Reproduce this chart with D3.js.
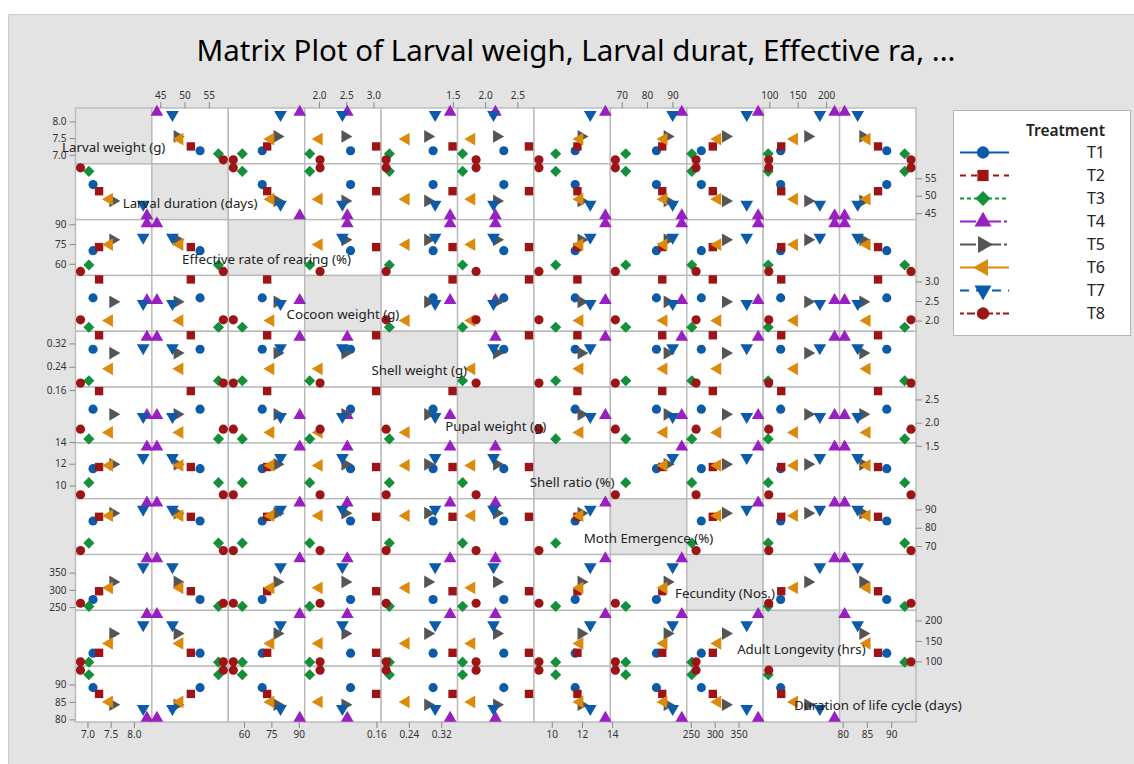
<!DOCTYPE html>
<html>
<head>
  <meta charset="utf-8">
  <title>Matrix Plot</title>
  <script src="https://cdn.jsdelivr.net/npm/d3@7"></script>
  <style>
    body { margin: 0; background: #fff; }
    text { font-family: "Noto Sans", "Open Sans", sans-serif; }
  </style>
</head>
<body>
<svg id="mainsvg" width="1134" height="764"></svg>
<script>
  // values, one entry per treatment T1..T8
  const treatments = ["T1", "T2", "T3", "T4", "T5", "T6", "T7", "T8"];
  const larvalWeight = [7.12, 7.25, 7.03, 8.28, 7.55, 7.47, 8.20, 6.85];
  const larvalDuration = [53.2, 51.3, 57.0, 44.3, 48.5, 49.0, 47.5, 58.0];
  const effectiveRate = [70.0, 72.7, 59.1, 90.5, 78.2, 74.6, 80.0, 54.2];
  const cocoonWeight = [2.58, 3.05, 1.83, 2.52, 2.48, 2.00, 2.43, 2.02];
  const shellWeight = [0.300, 0.348, 0.192, 0.342, 0.287, 0.233, 0.305, 0.184];
  const pupalWeight = [2.29, 2.68, 1.65, 2.16, 2.18, 1.79, 2.13, 1.86];
  const shellRatio = [11.55, 11.70, 10.26, 13.55, 11.95, 11.85, 12.55, 9.15];
  const mothEmergence = [83.7, 86.0, 71.6, 93.7, 88.0, 86.6, 90.1, 67.5];
  const fecundity = [272, 296, 252, 391, 323, 306, 367, 261];
  const adultLongevity = [120, 121, 98, 215, 168, 144, 189, 99];
  const lifeCycle = [89.1, 87.3, 92.8, 80.4, 84.2, 85.0, 83.1, 94.1];

  const varNames = ["Larval weight (g)", "Larval duration (days)", "Effective rate of rearing (%)",
    "Cocoon weight (g)", "Shell weight (g)", "Pupal weight (g)", "Shell ratio (%)",
    "Moth Emergence (%)", "Fecundity (Nos.)", "Adult Longevity (hrs)", "Duration of life cycle (days)"];
  const tickSets = [[7.0, 7.5, 8.0], [45, 50, 55], [60, 75, 90], [2.0, 2.5, 3.0], [0.16, 0.24, 0.32],
    [1.5, 2.0, 2.5], [10, 12, 14], [70, 80, 90], [250, 300, 350], [100, 150, 200], [80, 85, 90]];
  const tickFormats = [".1f", "d", "d", ".1f", ".2f", ".1f", "d", "d", "d", "d", "d"];

  const columns = [larvalWeight, larvalDuration, effectiveRate, cocoonWeight, shellWeight, pupalWeight,
    shellRatio, mothEmergence, fecundity, adultLongevity, lifeCycle];

  const colors = ["#0b5ba8", "#9c1416", "#14903a", "#9a1fc0", "#555555", "#dc8a0c", "#0b5ba8", "#9c1416"];
  const dashes = [null, "6,5", "4,3", "16,3,3,3", "16,3,3,3", null, "9,7", "4,3,8,3"];
  const shapes = [
    {type: d3.symbolCircle, rot: 0, size: 66},
    {type: d3.symbolSquare, rot: 0, size: 70},
    {type: d3.symbolSquare, rot: 45, size: 62},
    {type: d3.symbolTriangle, rot: 0, size: 70},
    {type: d3.symbolTriangle, rot: 90, size: 70},
    {type: d3.symbolTriangle, rot: -90, size: 70},
    {type: d3.symbolTriangle, rot: 180, size: 70},
    {type: d3.symbolCircle, rot: 0, size: 66}
  ];

  const svg = d3.select('#mainsvg');
  const n = varNames.length;

  // grey page
  svg.append('rect').attr('x', 8.5).attr('y', 14.5).attr('width', 1140).attr('height', 760)
    .attr('fill', '#e3e3e3').attr('stroke', '#cdcdcd');

  svg.append('text').attr('x', 576).attr('y', 61).attr('text-anchor', 'middle')
    .attr('font-size', 29.5).attr('fill', '#000')
    .text('Matrix Plot of Larval weigh, Larval durat, Effective ra, ...');

  const cellX = d3.scaleLinear().domain([0, n]).range([75.5, 916]);
  const cellY = d3.scaleLinear().domain([0, n]).range([108, 722]);
  const cw = cellX(1) - cellX(0), ch = cellY(1) - cellY(0);

  const xs = columns.map((col, i) => d3.scaleLinear().domain(d3.extent(col)).range([cellX(i) + 5, cellX(i + 1) - 5]));
  const ys = columns.map((col, i) => d3.scaleLinear().domain(d3.extent(col)).range([cellY(i + 1) - 4, cellY(i) + 4]));

  // cells
  const cells = d3.cross(d3.range(n), d3.range(n)).map(([r, c]) => ({r, c}));
  svg.append('g').selectAll('rect').data(cells).join('rect')
    .attr('x', d => cellX(d.c)).attr('y', d => cellY(d.r))
    .attr('width', cw).attr('height', ch)
    .attr('fill', d => d.r === d.c ? '#e3e3e3' : '#fff')
    .attr('stroke', '#bababa').attr('stroke-width', 1.4);

  // axes, alternating sides like Minitab
  function styleAxis(g) {
    g.select('.domain').remove();
    g.selectAll('.tick line').attr('stroke', '#8a8a8a');
    g.selectAll('.tick text').attr('fill', '#333').attr('font-size', 10)
      .attr('font-family', '"Noto Sans", "Open Sans", sans-serif');
  }
  for (let i = 0; i < n; i++) {
    const fmt = d3.format(tickFormats[i]);
    const xa = (i % 2 === 0 ? d3.axisBottom(xs[i]) : d3.axisTop(xs[i]))
      .tickValues(tickSets[i]).tickFormat(fmt).tickSize(6).tickPadding(3);
    svg.append('g').attr('transform', `translate(0,${i % 2 === 0 ? cellY(n) : cellY(0)})`).call(xa).call(styleAxis);
    const ya = (i % 2 === 0 ? d3.axisLeft(ys[i]) : d3.axisRight(ys[i]))
      .tickValues(tickSets[i]).tickFormat(fmt).tickSize(6).tickPadding(3);
    svg.append('g').attr('transform', `translate(${i % 2 === 0 ? cellX(0) : cellX(n)},0)`).call(ya).call(styleAxis);
  }

  // points
  const pts = [];
  cells.filter(d => d.r !== d.c).forEach(d => {
    treatments.forEach((t, k) => pts.push({k, x: xs[d.c](columns[d.c][k]), y: ys[d.r](columns[d.r][k])}));
  });
  svg.append('g').selectAll('path').data(pts).join('path')
    .attr('d', d => d3.symbol().type(shapes[d.k].type).size(shapes[d.k].size)())
    .attr('transform', d => `translate(${d.x},${d.y}) rotate(${shapes[d.k].rot})`)
    .attr('fill', d => colors[d.k]);

  // diagonal labels
  svg.append('g').selectAll('text').data(varNames).join('text')
    .attr('x', (d, i) => cellX(i) + cw / 2).attr('y', (d, i) => cellY(i) + ch / 2 + 16)
    .attr('text-anchor', 'middle').attr('font-size', 13.3).attr('fill', '#222')
    .text(d => d);

  // legend
  const lg = svg.append('g');
  lg.append('rect').attr('x', 953.5).attr('y', 110.5).attr('width', 177).attr('height', 225)
    .attr('fill', '#fff').attr('stroke', '#b5b5b5');
  lg.append('text').attr('x', 1105).attr('y', 136).attr('text-anchor', 'end')
    .attr('font-size', 15.5).attr('font-weight', 600).attr('fill', '#222').text('Treatment');
  const ly = d3.scaleLinear().domain([0, 7]).range([152.5, 313.5]);
  const items = lg.selectAll('g.item').data(treatments).join('g').attr('class', 'item')
    .attr('transform', (d, k) => `translate(0,${ly(k)})`);
  items.append('line').attr('x1', 960).attr('x2', 1009)
    .attr('stroke', (d, k) => colors[k]).attr('stroke-width', 2)
    .attr('stroke-dasharray', (d, k) => dashes[k]);
  items.append('path')
    .attr('d', (d, k) => d3.symbol().type(shapes[k].type).size(shapes[k].size * 1.8)())
    .attr('transform', (d, k) => `translate(983,0) rotate(${shapes[k].rot})`)
    .attr('fill', (d, k) => colors[k]);
  items.append('text').attr('x', 1105).attr('dy', '0.35em').attr('text-anchor', 'end')
    .attr('font-size', 16).attr('fill', '#222').text(d => d);
</script>
</body>
</html>
